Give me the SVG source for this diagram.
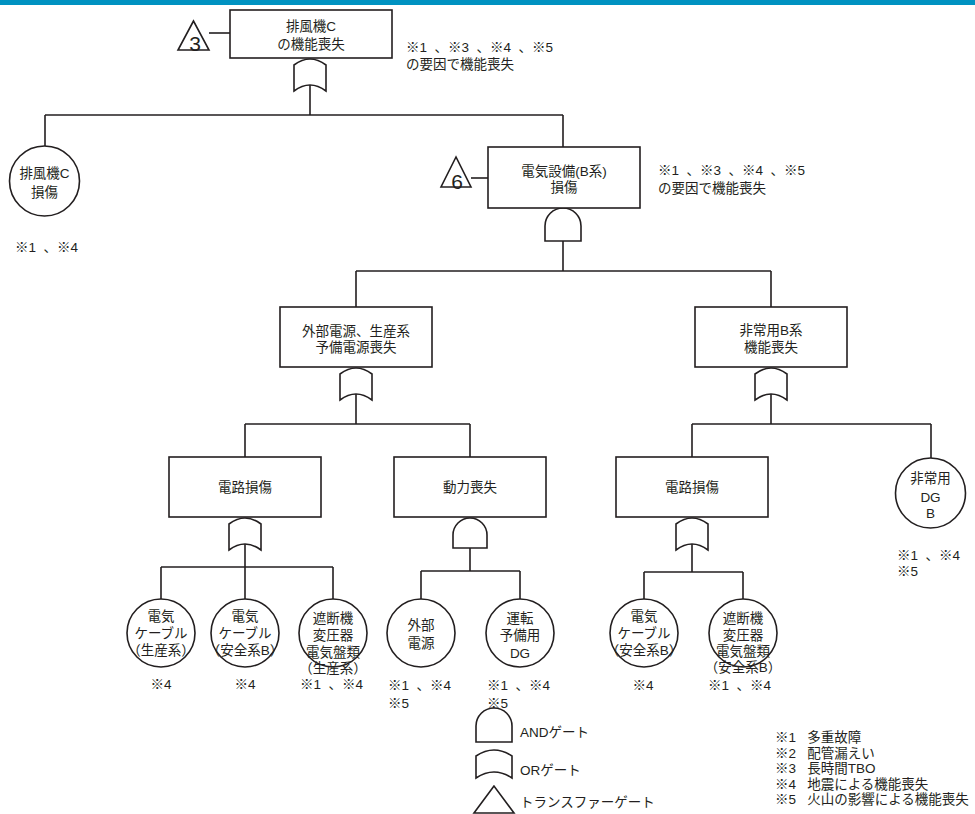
<svg xmlns="http://www.w3.org/2000/svg" width="975" height="814" viewBox="0 0 975 814">
<style>
text{font-family:"Liberation Sans","Noto Sans CJK JP",sans-serif;font-size:13.5px;fill:#231f20;white-space:pre}
.c{text-anchor:middle}
.big{font-size:21px}
.lg{font-size:13.5px}
.box,.ev,.gate,.tri{fill:#fff;stroke:#231f20;stroke-width:1.6}
.ln{fill:none;stroke:#231f20;stroke-width:1.6}
</style>
<rect x="0" y="0" width="975" height="5" fill="#0092c1"/>

<g id="connectors" class="ln">
<path d="M209 33H230"/>
<path d="M310 85V115M45 115H563M45 115V146M563 115V147"/>
<path d="M471 178H488"/>
<path d="M563 241V271M356 271H771M356 271V307M771 271V307"/>
<path d="M356 394V424M245 424H470M245 424V457M470 424V457"/>
<path d="M771 394V424M692 424H931M692 424V457M931 424V458"/>
<path d="M245 544V567M161 567H333M161 567V599M245 567V599M333 567V599"/>
<path d="M470 548V571M421 571H520M421 571V599M520 571V599"/>
<path d="M692 544V572M644 572H743M644 572V599M743 572V599"/>
</g>

<g id="gates">
<path class="gate" d="M294 65Q310 53 326 65V91Q310 79 294 91Z"/>
<path class="gate" d="M545 241V226A18 18 0 0 1 581 226V241Z"/>
<path class="gate" d="M340 374Q356 362 372 374V400Q356 388 340 400Z"/>
<path class="gate" d="M755 374Q771 362 787 374V400Q771 388 755 400Z"/>
<path class="gate" d="M229 524Q245 512 261 524V550Q245 538 229 550Z"/>
<path class="gate" d="M453 548V535A17 17 0 0 1 487 535V548Z"/>
<path class="gate" d="M676 524Q692 512 708 524V550Q692 538 676 550Z"/>
</g>

<g id="tri3">
<polygon class="tri" points="193.5,21 178,50 209,50"/>
<text class="c big" x="195" y="51">3</text>
</g>
<g id="tri6">
<polygon class="tri" points="456,157 441,187 471,187"/>
<text class="c big" x="457" y="189">6</text>
</g>

<g id="n-top">
<rect class="box" x="230" y="10" width="162" height="48"/>
<text class="c" x="311" y="31">排風機C</text>
<text class="c" x="311" y="49">の機能喪失</text>
</g>
<text x="406" y="52">※1  、※3  、※4  、※5</text>
<text x="406" y="69">の要因で機能喪失</text>

<g id="n-fanC">
<circle class="ev" cx="44.5" cy="181" r="35"/>
<text class="c" x="44.5" y="178">排風機C</text>
<text class="c" x="44.5" y="197">損傷</text>
</g>
<text x="15" y="252">※1  、※4</text>

<g id="n-elecB">
<rect class="box" x="488" y="147" width="152" height="61"/>
<text class="c" x="564" y="176">電気設備(B系)</text>
<text class="c" x="564" y="192">損傷</text>
</g>
<text x="658" y="175">※1  、※3  、※4  、※5</text>
<text x="658" y="193">の要因で機能喪失</text>

<g id="n-ext">
<rect class="box" x="280" y="307" width="152" height="60"/>
<text class="c" x="356" y="336">外部電源、生産系</text>
<text class="c" x="356" y="352">予備電源喪失</text>
</g>

<g id="n-emB">
<rect class="box" x="695" y="307" width="152" height="60"/>
<text class="c" x="771" y="335">非常用B系</text>
<text class="c" x="771" y="352">機能喪失</text>
</g>

<g id="n-circ1">
<rect class="box" x="169" y="457" width="152" height="60"/>
<text class="c" x="245" y="492">電路損傷</text>
</g>

<g id="n-power">
<rect class="box" x="394" y="457" width="152" height="60"/>
<text class="c" x="470" y="492">動力喪失</text>
</g>

<g id="n-circ2">
<rect class="box" x="616" y="457" width="152" height="60"/>
<text class="c" x="692" y="492">電路損傷</text>
</g>

<g id="n-dgB">
<circle class="ev" cx="930.5" cy="493" r="35"/>
<text class="c" x="930.5" y="483">非常用</text>
<text class="c" x="930.5" y="502">DG</text>
<text class="c" x="930.5" y="518">B</text>
</g>
<text x="897" y="560">※1  、※4</text>
<text x="897" y="576">※5</text>

<g id="n-cab1">
<circle class="ev" cx="161" cy="633" r="34"/>
<text class="c" x="161" y="621">電気</text>
<text class="c" x="161" y="638">ケーブル</text>
<text class="c" x="161" y="655">（生産系）</text>
</g>
<text class="c" x="161" y="689">※4</text>

<g id="n-cab2">
<circle class="ev" cx="245" cy="633" r="34"/>
<text class="c" x="245" y="621">電気</text>
<text class="c" x="245" y="638">ケーブル</text>
<text class="c" x="245" y="655">（安全系B）</text>
</g>
<text class="c" x="245" y="689">※4</text>

<g id="n-brk1">
<circle class="ev" cx="333" cy="633" r="34"/>
<text class="c" x="333" y="623">遮断機</text>
<text class="c" x="333" y="640">変圧器</text>
<text class="c" x="333" y="657">電気盤類</text>
<text class="c" x="333" y="673">（生産系）</text>
</g>
<text x="300" y="689">※1  、※4</text>

<g id="n-extpw">
<circle class="ev" cx="421" cy="633" r="34"/>
<text class="c" x="421" y="630">外部</text>
<text class="c" x="421" y="648">電源</text>
</g>
<text x="388" y="690">※1  、※4</text>
<text x="388" y="708">※5</text>

<g id="n-dg">
<circle class="ev" cx="520" cy="633" r="34"/>
<text class="c" x="520" y="623">運転</text>
<text class="c" x="520" y="640">予備用</text>
<text class="c" x="520" y="658">DG</text>
</g>
<text x="487" y="690">※1  、※4</text>
<text x="487" y="708">※5</text>

<g id="n-cab3">
<circle class="ev" cx="644" cy="633" r="34"/>
<text class="c" x="644" y="621">電気</text>
<text class="c" x="644" y="638">ケーブル</text>
<text class="c" x="644" y="655">（安全系B）</text>
</g>
<text class="c" x="643" y="690">※4</text>

<g id="n-brk2">
<circle class="ev" cx="743" cy="633" r="34"/>
<text class="c" x="743" y="623">遮断機</text>
<text class="c" x="743" y="640">変圧器</text>
<text class="c" x="743" y="656">電気盤類</text>
<text class="c" x="743" y="672">（安全系B）</text>
</g>
<text x="708" y="690">※1  、※4</text>

<g id="legend-gates">
<path class="gate" d="M476 742V726A18 18 0 0 1 512 726V742Z"/>
<text x="520" y="737">ANDゲート</text>
<path class="gate" d="M476 756Q494 744 512 756V778Q494 766 476 778Z"/>
<text x="520" y="775">ORゲート</text>
<polygon class="tri" points="494,786 474,813 514,813"/>
<text x="520" y="807">トランスファーゲート</text>
</g>

<g id="legend-notes">
<text class="lg" x="775" y="742">※1   多重故障</text>
<text class="lg" x="775" y="757.5">※2   配管漏えい</text>
<text class="lg" x="775" y="773">※3   長時間TBO</text>
<text class="lg" x="775" y="788.5">※4   地震による機能喪失</text>
<text class="lg" x="775" y="804">※5   火山の影響による機能喪失</text>
</g>
</svg>
